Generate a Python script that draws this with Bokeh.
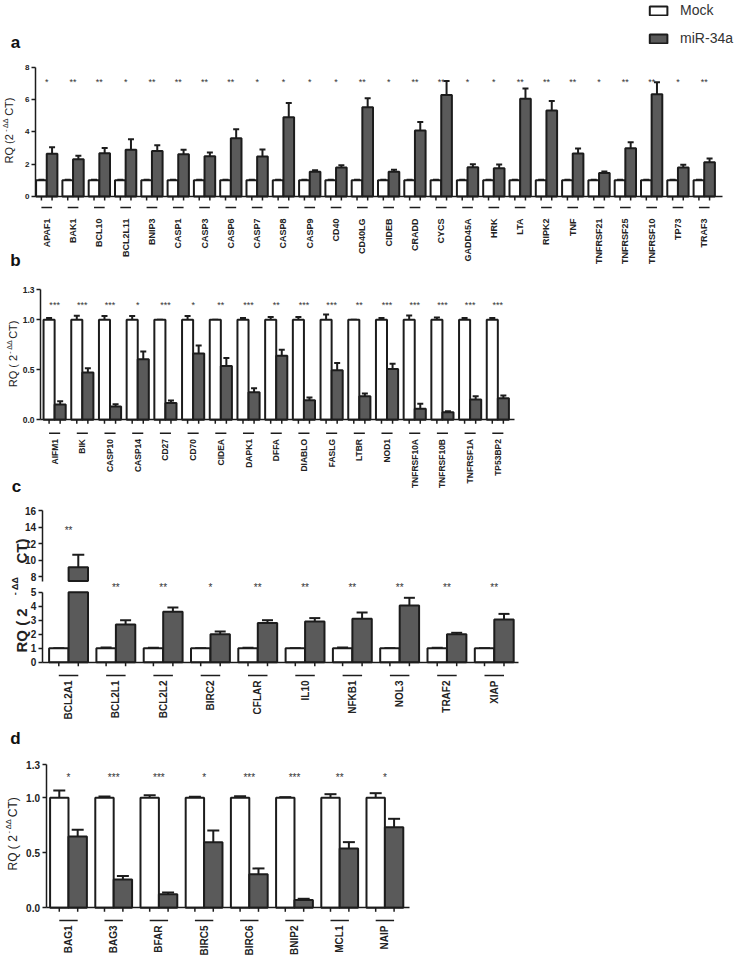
import numpy as np
from bokeh.plotting import figure
from bokeh.layouts import column
from bokeh.models import (Range1d, LinearAxis, FixedTicker, PrintfTickFormatter, Whisker,
                          TeeHead, Legend, LegendItem, ColumnDataSource)
from bokeh.core.properties import value
from bokeh.embed import file_html
from bokeh.resources import INLINE

# ---------------- data ----------------
series_names = ["Mock", "miR-34a"]

genes_a = ["APAF1", "BAK1", "BCL10", "BCL2L11", "BNIP3", "CASP1", "CASP3", "CASP6", "CASP7",
           "CASP8", "CASP9", "CD40", "CD40LG", "CIDEB", "CRADD", "CYCS", "GADD45A", "HRK",
           "LTA", "RIPK2", "TNF", "TNFRSF21", "TNFRSF25", "TNFRSF10", "TP73", "TRAF3"]
mock_a = [1.0, 1.0, 1.0, 1.0, 1.0, 1.0, 1.0, 1.0, 1.0, 1.0, 1.0, 1.0, 1.0,
          1.0, 1.0, 1.0, 1.0, 1.0, 1.0, 1.0, 1.0, 1.0, 1.0, 1.0, 1.0, 1.0]
mock_err_a = [0.04, 0.03, 0.03, 0.04, 0.03, 0.03, 0.04, 0.03, 0.03, 0.04, 0.03, 0.03, 0.04,
              0.04, 0.03, 0.03, 0.03, 0.03, 0.03, 0.03, 0.03, 0.04, 0.03, 0.04, 0.03, 0.03]
mir_a = [2.65, 2.31, 2.68, 2.89, 2.82, 2.62, 2.49, 3.61, 2.47, 4.91, 1.53, 1.79, 5.53,
         1.53, 4.08, 6.29, 1.81, 1.75, 6.06, 5.32, 2.66, 1.46, 2.99, 6.33, 1.79, 2.12]
mir_err_a = [0.40, 0.21, 0.32, 0.66, 0.36, 0.27, 0.23, 0.55, 0.44, 0.88, 0.10, 0.15, 0.55,
             0.12, 0.54, 0.86, 0.19, 0.23, 0.62, 0.60, 0.31, 0.09, 0.37, 0.74, 0.17, 0.23]
stars_a = ["*", "**", "**", "*", "**", "**", "**", "**", "*", "*", "*", "*", "**",
           "*", "**", "**", "*", "*", "**", "**", "**", "*", "**", "**", "*", "**"]
yticks_a = [0, 2, 4, 6, 8]

genes_b = ["AIFM1", "BIK", "CASP10", "CASP14", "CD27", "CD70", "CIDEA", "DAPK1", "DFFA",
           "DIABLO", "FASLG", "LTBR", "NOD1", "TNFRSF10A", "TNFRSF10B", "TNFRSF1A", "TP53BP2"]
mock_b = [1.0, 1.0, 1.0, 1.0, 1.0, 1.0, 1.0, 1.0, 1.0, 1.0, 1.0, 1.0, 1.0, 1.0, 1.0, 1.0, 1.0]
mock_err_b = [0.017, 0.04, 0.037, 0.037, 0.0, 0.037, 0.0, 0.017, 0.027, 0.027, 0.053, 0.0,
              0.017, 0.043, 0.023, 0.017, 0.017]
mir_b = [0.153, 0.472, 0.133, 0.605, 0.169, 0.664, 0.538, 0.276, 0.641, 0.196, 0.495, 0.236,
         0.508, 0.11, 0.076, 0.203, 0.216]
mir_err_b = [0.033, 0.043, 0.023, 0.079, 0.024, 0.08, 0.08, 0.04, 0.06, 0.027, 0.073, 0.026,
             0.053, 0.05, 0.01, 0.033, 0.027]
stars_b = ["***", "***", "***", "*", "***", "*", "**", "***", "**", "***", "***", "**",
           "***", "***", "***", "***", "***"]
yticks_b = [0.0, 0.5, 1.0, 1.3]

genes_c = ["BCL2A1", "BCL2L1", "BCL2L2", "BIRC2", "CFLAR", "IL10", "NFKB1", "NOL3", "TRAF2", "XIAP"]
mock_c = [1.0, 1.0, 1.0, 1.0, 1.0, 1.0, 1.0, 1.0, 1.0, 1.0]
mock_err_c = [0.0, 0.05, 0.03, 0.0, 0.04, 0.0, 0.05, 0.0, 0.03, 0.0]
mir_c = [9.13, 2.70, 3.60, 2.00, 2.80, 2.90, 3.10, 4.05, 2.00, 3.05]
mir_err_c = [1.50, 0.30, 0.30, 0.20, 0.20, 0.25, 0.45, 0.55, 0.10, 0.40]
stars_c = ["**", "**", "**", "*", "**", "**", "**", "**", "**", "**"]
yticks_c_low = [0, 1, 2, 3, 4, 5]
yticks_c_high = [8, 10, 12, 14, 16]
axis_break_c = (5.0, 7.45)

genes_d = ["BAG1", "BAG3", "BFAR", "BIRC5", "BIRC6", "BNIP2", "MCL1", "NAIP"]
mock_d = [1.0, 1.0, 1.0, 1.0, 1.0, 1.0, 1.0, 1.0]
mock_err_d = [0.067, 0.012, 0.024, 0.009, 0.015, 0.006, 0.033, 0.042]
mir_d = [0.648, 0.258, 0.124, 0.597, 0.306, 0.070, 0.539, 0.733]
mir_err_d = [0.061, 0.030, 0.015, 0.106, 0.052, 0.012, 0.058, 0.076]
stars_d = ["*", "***", "***", "*", "***", "***", "**", "*"]
yticks_d = [0.0, 0.5, 1.0, 1.3]

# ---------------- style ----------------
W = 735
FONT = "Liberation Sans"
INK = "#1c1c1c"
GREY = "#5a5a5a"
TXT = "#222222"

CW = {"R": .722, "Q": .778, " ": .278, "(": .333, ")": .333, "2": .556, "C": .722, "T": .611}


def tw(s, size):
    return sum(CW.get(ch, .6) for ch in s) * size


class Panel:
    def __init__(self, top, bottom, axis_x, unit, zero_y, scale):
        self.axis_x, self.unit, self.zero_y, self.scale = axis_x, unit, zero_y, scale
        h = bottom - top
        xs = -axis_x / unit
        ys = -(bottom - zero_y) / scale
        self.p = figure(width=W, height=h, x_range=Range1d(xs, xs + W / unit),
                        y_range=Range1d(ys, ys + h / scale), x_axis_type=None, y_axis_type=None,
                        output_backend="svg", toolbar_location=None, min_border=0,
                        min_border_left=0, min_border_right=0, min_border_top=0,
                        min_border_bottom=0, outline_line_color=None,
                        background_fill_color="white", border_fill_color="white")

    def X(self, px):
        return (px - self.axis_x) / self.unit

    def Y(self, py):
        return (self.zero_y - py) / self.scale


def y_axis(p, ticks, lo, hi, fmt, size, rname="default"):
    ax = LinearAxis(y_range_name=rname, fixed_location=0, bounds=(lo, hi),
                    ticker=FixedTicker(ticks=ticks, minor_ticks=[]),
                    formatter=PrintfTickFormatter(format=fmt),
                    major_tick_out=4, major_tick_in=0, minor_tick_line_color=None,
                    axis_line_width=1.5, axis_line_color=INK,
                    major_tick_line_width=1.5, major_tick_line_color=INK,
                    major_label_standoff=2, major_label_text_font=FONT,
                    major_label_text_font_style="bold", major_label_text_font_size=size,
                    major_label_text_color=TXT)
    p.add_layout(ax, "left")


def x_axis(pn, ticks, hi):
    p = pn.p
    ax = LinearAxis(fixed_location=0, bounds=(0, hi),
                    ticker=FixedTicker(ticks=[], minor_ticks=[]),
                    major_tick_line_color=None, minor_tick_line_color=None,
                    axis_line_width=1.5, axis_line_color=INK)
    p.add_layout(ax, "below")
    # tick marks under each bar (4 px long)
    p.segment(x0=list(ticks), x1=list(ticks), y0=0, y1=-4.0 / pn.scale,
              line_color=INK, line_width=1.5)


def whiskers(p, x, mean, err, cap, rname="default"):
    src = ColumnDataSource(dict(x=list(x), lo=list(mean),
                                hi=list(np.array(mean) + np.array(err))))
    p.add_layout(Whisker(source=src, base="x", lower="lo", upper="hi", dimension="height",
                         y_range_name=rname, lower_head=None,
                         upper_head=TeeHead(size=cap, line_width=2, line_color=INK),
                         line_width=2, line_color=INK))


def texts(p, x, y, t, size, bold=False, angle=0.0, align="center", color=TXT, rname="default"):
    p.text(x=x, y=y, text=t, angle=angle, text_align=align, text_baseline="middle",
           text_font=value(FONT), text_font_size=size,
           text_font_style="bold" if bold else "normal", text_color=color, y_range_name=rname)


def y_label(pn, x_main, x_sup, yb, yt, size, sup_size, bold, m1, sup, m2):
    p = pn.p
    texts(p, [pn.X(x_main)], [pn.Y(yb)], [m1], f"{size}px", bold, np.pi / 2, "left")
    texts(p, [pn.X(x_main)], [pn.Y(yt)], [m2], f"{size}px", bold, np.pi / 2, "right")
    yc = ((yb - tw(m1, size)) + (yt + tw(m2, size))) / 2
    texts(p, [pn.X(x_sup)], [pn.Y(yc)], [sup], f"{sup_size}px", bold, np.pi / 2, "center")


def categories(pn, genes, off_w, off_g, star_txt, star_py, line_py, label_py, lab_size,
               star_size, with_stars=True):
    p = pn.p
    idx = np.arange(len(genes))
    xw, xg = idx + off_w, idx + off_g
    xc = (xw + xg) / 2
    if with_stars:
        texts(p, list(xc), [pn.Y(star_py)] * len(genes), star_txt, star_size, color="#333333")
    p.segment(x0=list(xw), x1=list(xg), y0=pn.Y(line_py), y1=pn.Y(line_py),
              line_color=INK, line_width=1.5)
    texts(p, list(xc), [pn.Y(label_py)] * len(genes), genes, lab_size, True, np.pi / 2, "right")
    return xw, xg, xc


def panel_bars(pn, genes, mock, mock_err, mir, mir_err, off_w, off_g, bw, cap, hi):
    p = pn.p
    idx = np.arange(len(genes))
    xw, xg = idx + off_w, idx + off_g
    rw = p.vbar(x=list(xw), width=bw, bottom=0, top=mock, fill_color="white",
                line_color=INK, line_width=2)
    rg = p.vbar(x=list(xg), width=bw, bottom=0, top=mir, fill_color=GREY,
                line_color=INK, line_width=2)
    whiskers(p, xw, mock, mock_err, cap)
    whiskers(p, xg, mir, mir_err, cap)
    x_axis(pn, sorted(list(xw) + list(xg)), hi)
    return rw, rg


def letter(pn, px, py, t):
    texts(pn.p, [pn.X(px)], [pn.Y(py)], [t], "17px", True, 0.0, "center", "#111111")


# ---------------- panel a ----------------
pa = Panel(0, 272, 35, 26.3, 196, 16.15)
rw, rg = panel_bars(pa, genes_a, mock_a, mock_err_a, mir_a, mir_err_a, 0.225, 0.63, 0.405, 6,
                    (722 - 35) / 26.3)
y_axis(pa.p, yticks_a, 0, 8, "%d", "8px")
categories(pa, genes_a, 0.225, 0.63, stars_a, 81, 207, 218, "9px", "9px")
y_label(pa, 8.5, 4.5, 163, 97, 11, 7, False, "RQ (2", "- ΔΔ", "CT)")
letter(pa, 15, 42, "a")
letter(pa, 15, 260, "b")
legend = Legend(items=[LegendItem(label=series_names[0], renderers=[rw]),
                       LegendItem(label=series_names[1], renderers=[rg])],
                location="top_right", orientation="vertical", glyph_width=22, glyph_height=11,
                label_standoff=11, label_height=14, spacing=12, padding=0, margin=2,
                border_line_color=None, background_fill_alpha=0, label_text_font=FONT,
                label_text_font_size="14px", label_text_color="#333333")
pa.p.add_layout(legend)

# ---------------- panel b ----------------
pb = Panel(272, 496, 40, 27.7, 419.3, 100.0)
panel_bars(pb, genes_b, mock_b, mock_err_b, mir_b, mir_err_b, 0.31, 0.71, 0.40, 6,
           (514 - 40) / 27.7)
y_axis(pb.p, yticks_b, 0, 1.3, "%.1f", "8.5px")
categories(pb, genes_b, 0.31, 0.71, stars_b, 304, 432.7, 438.5, "8.5px", "9px")
y_label(pb, 12.8, 8.8, 386.7, 320, 11, 7, False, "RQ ( 2", "- ΔΔ", "CT)")
letter(pb, 16, 486, "c")

# ---------------- panel c (broken axis) ----------------
pc = Panel(496, 724, 41.7, 47.3, 661.7, 14.0)
p = pc.p
up_scale, up_ref_py = 8.25, 576.0
p.extra_y_ranges = {"upper": Range1d(8 - (724 - up_ref_py) / up_scale,
                                     8 + (up_ref_py - 496) / up_scale)}
off_w_c, off_g_c, bw_c = 0.351, 0.763, 0.41
idx_c = np.arange(len(genes_c))
xw_c, xg_c = idx_c + off_w_c, idx_c + off_g_c
mir_c_arr = np.array(mir_c)
err_c_arr = np.array(mir_err_c)
broken = mir_c_arr > axis_break_c[0]
p.vbar(x=list(xw_c), width=bw_c, bottom=0, top=mock_c, fill_color="white",
       line_color=INK, line_width=2)
p.vbar(x=list(xg_c), width=bw_c, bottom=0, top=list(np.minimum(mir_c_arr, axis_break_c[0])),
       fill_color=GREY, line_color=INK, line_width=2)
p.vbar(x=list(xg_c[broken]), width=bw_c, bottom=axis_break_c[1], top=list(mir_c_arr[broken]),
       fill_color=GREY, line_color=INK, line_width=2, y_range_name="upper")
whiskers(p, xw_c, mock_c, mock_err_c, 11)
whiskers(p, xg_c[~broken], mir_c_arr[~broken], err_c_arr[~broken], 11)
whiskers(p, xg_c[broken], mir_c_arr[broken], err_c_arr[broken], 12, "upper")
x_axis(pc, sorted(list(xw_c) + list(xg_c)), (518 - 41.7) / 47.3)
y_axis(p, yticks_c_low, 0, axis_break_c[0], "%d", "10px")
y_axis(p, yticks_c_high, axis_break_c[1], 16, "%d", "10px", "upper")
xc_c = (xw_c + xg_c) / 2
stars_c_arr = np.array(stars_c)
texts(p, list(xc_c[~broken]), [pc.Y(587)] * int((~broken).sum()), list(stars_c_arr[~broken]),
      "10px", color="#333333")
texts(p, list(xc_c[broken]), [8 + (up_ref_py - 530) / up_scale] * int(broken.sum()),
      list(stars_c_arr[broken]), "10px", color="#333333", rname="upper")
categories(pc, genes_c, off_w_c, off_g_c, stars_c, 0, 675, 680, "10px", "10px",
           with_stars=False)
y_label(pc, 20.5, 14.5, 652, 538, 15, 9, True, "RQ ( 2", "- ΔΔ", "CT)")

# ---------------- panel d ----------------
pd_ = Panel(724, 958, 45.5, 45.2, 907.3, 110.0)
panel_bars(pd_, genes_d, mock_d, mock_err_d, mir_d, mir_err_d, 0.294, 0.701, 0.407, 12,
           (409.3 - 45.5) / 45.2)
y_axis(pd_.p, yticks_d, 0, 1.3, "%.1f", "10px")
categories(pd_, genes_d, 0.294, 0.701, stars_d, 777, 920, 925, "10px", "10px")
y_label(pd_, 12.8, 8.3, 870, 796.7, 12, 7.5, False, "RQ ( 2", "- ΔΔ", "CT)")
letter(pd_, 15, 738, "d")

layout = column(pa.p, pb.p, pc.p, pd_.p, spacing=0)
open("out.html", "w").write(file_html(layout, INLINE))
